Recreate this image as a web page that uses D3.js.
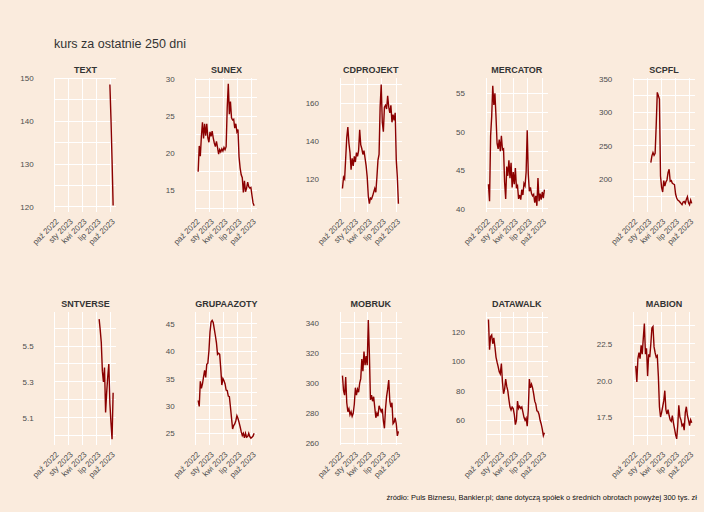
<!DOCTYPE html>
<meta charset="utf-8">
<style>
body { margin: 0; background: #faebdd; font-family: Arial, "Liberation Sans", sans-serif; }
.grid line { stroke: #fff; stroke-width: 1; shape-rendering: crispEdges; }
.series { fill: none; stroke: #8b0000; stroke-width: 1.4; }
.axis text { font-size: 8px; fill: #4d4d4d; }
.axis path, .axis line { display: none; }
.strip { font-size: 9px; font-weight: bold; fill: #333; text-anchor: middle; }
</style>
<body>
<svg id="chart" width="704" height="512"></svg>
<script src="https://d3js.org/d3.v7.min.js"></script>
<script>

// weekly closing prices, Mondays from 17 Oct 2022 to 16 Oct 2023
var weeks = d3.timeMonday.range(new Date(2022, 9, 17), new Date(2023, 9, 17));

var monthTicks = [new Date(2022, 9, 1), new Date(2023, 0, 1), new Date(2023, 3, 1), new Date(2023, 6, 1), new Date(2023, 9, 1)];
var monthLabels = ["paź 2022", "sty 2023", "kwi 2023", "lip 2023", "paź 2023"];

var tickers = ["TEXT", "SUNEX", "CDPROJEKT", "MERCATOR", "SCPFL",
               "SNTVERSE", "GRUPAAZOTY", "MOBRUK", "DATAWALK", "MABION"];
var firstWeek = [49, 0, 0, 0, 14, 39, 0, 0, 0, 0];

var textPrices = [148.6, 140.5, 131, 120.3];
var sunexPrices = [17.5, 21.0, 19.6, 22.3, 24.2, 22.0, 24.0, 22.4, 24.0, 22.1, 21.5, 22.9, 22.3, 23.0, 22.1,
  21.4, 20.9, 21.6, 20.8, 19.9, 20.5, 20.2, 20.6, 20.3, 20.8, 20.5, 20.9, 26.2, 29.4, 25.3, 27.0, 24.8,
  24.5, 24.6, 23.4, 24.0, 22.9, 23.2, 19.5, 18.0, 17.1, 16.7, 14.7, 16.3, 14.8, 15.3, 16.1, 15.5, 15.3,
  15.4, 14.3, 13.3, 12.9];
var cdprojektPrices = [115, 121, 120, 131, 142, 147.5, 139, 134, 125, 131, 127, 132, 129, 134, 132, 135,
  146, 138, 136, 133, 135, 131, 127, 121, 111, 107, 110, 109.5, 111, 113, 115, 113, 121, 130, 133, 158,
  170, 150, 145, 158, 159, 157, 164, 158, 155, 159, 150, 154, 151, 155, 130, 121, 107];
var mercatorPrices = [43.2, 41.0, 49.5, 52.0, 56.0, 53.5, 55.0, 52.0, 48.5, 47.8, 49.0, 47.5, 49.5, 47.7,
  47.8, 43.5, 41.3, 45.5, 44.3, 46.3, 44.0, 46.0, 42.8, 44.8, 43.2, 45.3, 42.7, 43.0, 41.3, 41.8, 41.2,
  42.5, 41.8, 43.3, 43.0, 44.8, 50.2, 44.5, 42.3, 42.8, 42.0, 41.7, 41.9, 40.8, 41.7, 40.4, 44.0, 41.0,
  42.0, 41.2, 42.2, 41.4, 42.5];
var scpflPrices = [225, 235, 240, 236, 239, 281, 330, 325, 320, 205, 188, 181, 198, 190, 196, 199, 210,
  215, 197, 198, 194, 193, 192, 178, 172, 169, 168, 166, 164, 162, 166, 167, 164, 170, 174, 165, 162,
  169, 164];
var sntversePrices = [5.65, 5.59, 5.52, 5.36, 5.30, 5.38, 5.13, 5.24, 5.33, 5.40, 5.18, 5.07, 4.98, 5.24];
var grupaazotyPrices = [31.0, 29.9, 34.5, 33.2, 34.0, 35.3, 36.5, 35.2, 37.6, 37.8, 40.0, 43.5, 45.3, 45.6,
  45.2, 44.0, 42.8, 41.5, 39.4, 39.6, 39.4, 36.8, 33.8, 35.0, 34.6, 34.0, 32.9, 32.8, 31.8, 31.7, 29.8,
  27.8, 25.8, 26.4, 26.7, 27.3, 28.2, 27.7, 27.0, 26.2, 25.3, 24.6, 25.0, 24.2, 25.0, 24.3, 24.4, 25.0,
  24.4, 24.1, 24.3, 24.5, 25.0];
var mobrukPrices = [305, 295, 292, 304, 287, 281, 283, 279, 281, 278, 280, 286, 297, 292, 296, 294, 300,
  303, 316, 308, 321, 312, 318, 312, 342, 320, 289, 292, 288, 291, 284, 277, 280, 278, 285, 283, 281,
  283, 275, 270, 283, 291, 296, 302, 288, 284, 287, 273, 274, 277, 273, 265, 268];
var datawalkPrices = [128.5, 108, 117, 118, 112, 116, 110, 103, 99.5, 96.5, 93, 91.5, 98.5, 86, 78, 81, 88,
  83, 80, 74, 69, 67, 69, 68, 64, 57, 60, 73, 68, 69.5, 68, 69, 65.5, 62, 60, 61.5, 56, 67, 88, 82,
  84.5, 82, 78, 73, 71, 66.5, 66, 64, 60, 57.5, 54, 49.5, 51.5];
var mabionPrices = [21.0, 19.9, 21.5, 21.9, 21.5, 22.4, 21.8, 22.9, 23.9, 21.8, 22.2, 20.3, 21.8, 21.6,
  22.5, 23.6, 23.7, 22.3, 21.9, 21.6, 21.7, 20.3, 18.2, 17.5, 17.8, 18.2, 18.6, 19.3, 18.0, 17.7, 18.0,
  17.6, 17.3, 17.2, 17.6, 17.1, 16.7, 16.3, 16.0, 16.9, 18.3, 17.5, 17.3, 16.9, 17.0, 16.6, 17.8, 18.2,
  17.6, 17.3, 16.9, 17.3, 17.1];

var textTicks = [120, 130, 140, 150];
var sunexTicks = [15, 20, 25, 30];
var cdprojektTicks = [120, 140, 160];
var mercatorTicks = [40, 45, 50, 55];
var scpflTicks = [200, 250, 300, 350];
var sntverseTicks = [5.1, 5.3, 5.5];
var grupaazotyTicks = [25, 30, 35, 40, 45];
var mobrukTicks = [260, 280, 300, 320, 340];
var datawalkTicks = [60, 80, 100, 120];
var mabionTicks = [17.5, 20, 22.5];

var series = [textPrices, sunexPrices, cdprojektPrices, mercatorPrices, scpflPrices,
              sntversePrices, grupaazotyPrices, mobrukPrices, datawalkPrices, mabionPrices];
var ticks = [textTicks, sunexTicks, cdprojektTicks, mercatorTicks, scpflTicks,
             sntverseTicks, grupaazotyTicks, mobrukTicks, datawalkTicks, mabionTicks];

// panel y limits (scale settings, free per facet)
var yLimits = [[118.8, 150.1], [12.07, 30.18], [102.6, 173.4], [39.6, 57.0], [151.1, 351.5],
               [4.948, 5.69], [22.87, 47.13], [258.9, 347.3], [43.2, 133.6], [15.58, 24.69]];

var panelLeft = [54.7, 195.7, 340, 486, 633.3],
    panelWidth = 61.5,
    rowTop = [78, 312],
    rowBottom = [212, 445];

var svg = d3.select("#chart");
svg.append("rect").attr("width", 704).attr("height", 512).attr("fill", "#faebdd");

svg.append("text").attr("x", 54).attr("y", 48).text("kurs za ostatnie 250 dni")
   .style("font-size", "12.5px").style("fill", "#333");

var x0 = d3.scaleTime().domain([new Date(2022, 9, 1), new Date(2023, 10, 5)]);

tickers.forEach(function(name, i) {
  var col = i % 5, row = Math.floor(i / 5);
  var left = panelLeft[col], top = rowTop[row], bottom = rowBottom[row];
  var x = x0.copy().range([left, left + panelWidth]);
  var y = d3.scaleLinear().domain(yLimits[i]).range([bottom, top]);
  var major = ticks[i];
  var step = major[1] - major[0];
  var minor = [];
  for (var k = -1; k < major.length; k++) {
    var m = major[0] + step * (k + 0.5);
    if (m >= yLimits[i][0] && m <= yLimits[i][1]) minor.push(m);
  }

  var g = svg.append("g").attr("class", "grid");
  g.selectAll(".h").data(major.concat(minor)).enter().append("line")
    .attr("x1", left).attr("x2", left + panelWidth)
    .attr("y1", d => y(d)).attr("y2", d => y(d));
  g.selectAll(".v").data(monthTicks).enter().append("line")
    .attr("x1", d => x(d)).attr("x2", d => x(d))
    .attr("y1", top).attr("y2", bottom);

  var pts = series[i].map((v, j) => ({date: weeks[firstWeek[i] + j], value: v}));
  svg.append("path").datum(pts).attr("class", "series")
    .attr("d", d3.line().x(d => x(d.date)).y(d => y(d.value)));

  svg.append("text").attr("class", "strip")
    .attr("x", left + panelWidth / 2).attr("y", top - 5).text(name);

  var fmt = major.some(d => d % 1 !== 0) ? d3.format(".1f") : d3.format("d");
  svg.append("g").attr("class", "axis")
    .attr("transform", `translate(${left},0)`)
    .call(d3.axisLeft(y).tickValues(major).tickFormat(fmt).tickSize(0).tickPadding(21));

  var xa = svg.append("g").attr("class", "axis")
    .attr("transform", `translate(0,${bottom})`)
    .call(d3.axisBottom(x).tickValues(monthTicks).tickFormat((d, j) => monthLabels[j]).tickSize(0));
  xa.selectAll("text")
    .attr("text-anchor", "end")
    .attr("dy", 0)
    .attr("y", 0)
    .attr("transform", "translate(4,10) rotate(-45)");
});

svg.append("text").attr("x", 697).attr("y", 500).attr("text-anchor", "end")
   .style("font-size", "7.5px").style("fill", "#111")
   .text("źródło: Puls Biznesu, Bankier.pl; dane dotyczą spółek o średnich obrotach powyżej 300 tys. zł");

</script>
</body>
